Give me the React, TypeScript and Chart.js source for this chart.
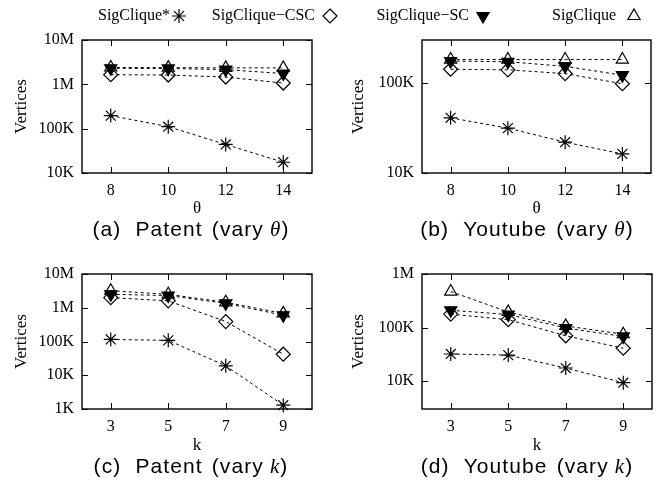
import React, { useEffect, useRef } from 'react';
import { Chart, registerables } from 'chart.js';

Chart.register(...registerables);

// ---------------- data ----------------
const seriesNames = ['SigClique*', 'SigClique\u2212CSC', 'SigClique\u2212SC', 'SigClique'];
const thetaValues = [8, 10, 12, 14];
const kValues = [3, 5, 7, 9];

// (a) Patent, vary theta
const patentThetaStar = [197000, 111000, 44000, 17500];
const patentThetaCSC = [1650000, 1620000, 1460000, 1070000];
const patentThetaSC = [2300000, 2280000, 2150000, 1750000];
const patentThetaFull = [2400000, 2380000, 2350000, 2350000];

// (b) Youtube, vary theta
const youtubeThetaStar = [41000, 31500, 22000, 16300];
const youtubeThetaCSC = [142000, 140000, 127000, 98000];
const youtubeThetaSC = [175000, 172000, 153000, 122000];
const youtubeThetaFull = [182000, 182000, 182000, 182000];

// (c) Patent, vary k
const patentKStar = [115000, 108000, 19000, 1300];
const patentKCSC = [2000000, 1600000, 390000, 42000];
const patentKSC = [2500000, 2300000, 1350000, 600000];
const patentKFull = [3200000, 2500000, 1450000, 680000];

// (d) Youtube, vary k
const youtubeKStar = [32000, 30500, 17500, 9300];
const youtubeKCSC = [178000, 140000, 70000, 41000];
const youtubeKSC = [210000, 175000, 98000, 68000];
const youtubeKFull = [470000, 195000, 107000, 75000];

// tick labels / ranges
const yTicksA = [1e4, 1e5, 1e6, 1e7];
const yTicksB = [1e4, 1e5];
const yTicksC = [1e3, 1e4, 1e5, 1e6, 1e7];
const yTicksD = [1e4, 1e5, 1e6];

// ---------------- styles ----------------
const SERIF = '"Liberation Serif", "DejaVu Serif", serif';
const SANS = '"Liberation Sans", "DejaVu Sans", sans-serif';
const markerStyles = [
  { pointStyle: 'star', rotation: 0, fill: 'rgba(0,0,0,0)' },
  { pointStyle: 'rectRot', rotation: 0, fill: 'rgba(0,0,0,0)' },
  { pointStyle: 'triangle', rotation: 180, fill: '#000' },
  { pointStyle: 'triangle', rotation: 0, fill: 'rgba(0,0,0,0)' },
];
const MARKER_R = 7;

function fmt(v: number): string {
  if (v >= 1e6) return v / 1e6 + 'M';
  return v / 1e3 + 'K';
}

function drawMarker(ctx: CanvasRenderingContext2D, idx: number, x: number, y: number, r: number) {
  const st = markerStyles[idx];
  ctx.save();
  ctx.strokeStyle = '#000';
  ctx.fillStyle = st.fill;
  ctx.lineWidth = 1.2;
  ctx.beginPath();
  if (st.pointStyle === 'star') {
    for (let i = 0; i < 4; i++) {
      const a = (i * Math.PI) / 4;
      ctx.moveTo(x + Math.cos(a) * r, y + Math.sin(a) * r);
      ctx.lineTo(x - Math.cos(a) * r, y - Math.sin(a) * r);
    }
    ctx.stroke();
  } else if (st.pointStyle === 'rectRot') {
    ctx.moveTo(x, y - r);
    ctx.lineTo(x + r, y);
    ctx.lineTo(x, y + r);
    ctx.lineTo(x - r, y);
    ctx.closePath();
    ctx.fill();
    ctx.stroke();
  } else {
    const rot = (st.rotation * Math.PI) / 180;
    for (let i = 0; i < 3; i++) {
      const a = rot + (i * 2 * Math.PI) / 3;
      const px = x + Math.sin(a) * r;
      const py = y - Math.cos(a) * r;
      if (i === 0) ctx.moveTo(px, py);
      else ctx.lineTo(px, py);
    }
    ctx.closePath();
    ctx.fill();
    ctx.stroke();
  }
  ctx.restore();
}

const framePlugin = {
  id: 'gnuFrame',
  beforeDatasetsDraw(chart: any) {
    const { ctx, chartArea } = chart;
    const { left, right, top, bottom } = chartArea;
    const xs = chart.scales.x;
    const ys = chart.scales.y;
    ctx.save();
    ctx.strokeStyle = '#000';
    ctx.lineWidth = 1.4;
    ctx.strokeRect(left, top, right - left, bottom - top);
    const L = 6;
    ctx.beginPath();
    xs.ticks.forEach((t: any) => {
      const px = Math.round(xs.getPixelForValue(t.value)) + 0.5;
      ctx.moveTo(px, bottom);
      ctx.lineTo(px, bottom - L);
      ctx.moveTo(px, top);
      ctx.lineTo(px, top + L);
    });
    ys.ticks.forEach((t: any) => {
      const py = Math.round(ys.getPixelForValue(t.value)) + 0.5;
      ctx.moveTo(left, py);
      ctx.lineTo(left + L, py);
      ctx.moveTo(right, py);
      ctx.lineTo(right - L, py);
    });
    ctx.lineWidth = 1;
    ctx.stroke();
    ctx.restore();
  },
};

const legendLayout = [
  { textRight: 170, symX: 179 },
  { textRight: 315, symX: 330 },
  { textRight: 469, symX: 483 },
  { textRight: 616, symX: 634 },
];

const legendPlugin = {
  id: 'gnuLegend',
  afterDraw(chart: any) {
    const opts = chart.options.plugins.gnuLegend;
    if (!opts || !opts.show) return;
    const ctx = chart.ctx as CanvasRenderingContext2D;
    ctx.save();
    ctx.font = '16px ' + SERIF;
    ctx.fillStyle = '#000';
    ctx.textAlign = 'right';
    ctx.textBaseline = 'middle';
    const y = 16;
    seriesNames.forEach((name, i) => {
      const l = legendLayout[i];
      ctx.fillText(name, l.textRight, y);
      drawMarker(ctx, i, l.symX, y, MARKER_R);
    });
    ctx.restore();
  },
};

interface Panel {
  cats: number[];
  series: number[][];
  xMin: number;
  xMax: number;
  yMin: number;
  yMax: number;
  yTicks: number[];
  xTitle: string;
  left: number;
  top: number;
  width: number;
  height: number;
  pad: { left: number; right: number; top: number; bottom: number };
  yW: number;
  xH: number;
  yTitlePad: number;
  xTitlePad: number;
  legend: boolean;
}

const panels: Panel[] = [
  {
    cats: thetaValues,
    series: [patentThetaStar, patentThetaCSC, patentThetaSC, patentThetaFull],
    xMin: 7, xMax: 15, yMin: 1e4, yMax: 1e7, yTicks: yTicksA, xTitle: '\u03b8',
    left: 0, top: 0, width: 662, height: 241,
    pad: { left: 0, right: 350, top: 40, bottom: 18 }, yW: 82, xH: 50, yTitlePad: 11.8, xTitlePad: 4.0,
    legend: true,
  },
  {
    cats: thetaValues,
    series: [youtubeThetaStar, youtubeThetaCSC, youtubeThetaSC, youtubeThetaFull],
    xMin: 7, xMax: 15, yMin: 1e4, yMax: 3e5, yTicks: yTicksB, xTitle: '\u03b8',
    left: 331, top: 0, width: 331, height: 241,
    pad: { left: 0, right: 11, top: 40, bottom: 18 }, yW: 91, xH: 50, yTitlePad: 17.8, xTitlePad: 4.0,
    legend: false,
  },
  {
    cats: kValues,
    series: [patentKStar, patentKCSC, patentKSC, patentKFull],
    xMin: 2, xMax: 10, yMin: 1e3, yMax: 1e7, yTicks: yTicksC, xTitle: 'k',
    left: 0, top: 241, width: 331, height: 241,
    pad: { left: 0, right: 19, top: 33, bottom: 23 }, yW: 82, xH: 50, yTitlePad: 11.8, xTitlePad: 3.0,
    legend: false,
  },
  {
    cats: kValues,
    series: [youtubeKStar, youtubeKCSC, youtubeKSC, youtubeKFull],
    xMin: 2, xMax: 10, yMin: 3000, yMax: 1e6, yTicks: yTicksD, xTitle: 'k',
    left: 331, top: 241, width: 331, height: 241,
    pad: { left: 0, right: 10, top: 33, bottom: 23 }, yW: 91, xH: 50, yTitlePad: 17.8, xTitlePad: 3.0,
    legend: false,
  },
];

function buildConfig(p: Panel): any {
  const datasets = p.series.map((vals, i) => ({
    label: seriesNames[i],
    data: p.cats.map((c, j) => ({ x: c, y: vals[j] })),
    borderColor: '#000',
    borderWidth: 1,
    borderDash: [3, 3],
    backgroundColor: markerStyles[i].fill,
    pointStyle: markerStyles[i].pointStyle,
    rotation: markerStyles[i].rotation,
    pointRadius: MARKER_R,
    pointBorderWidth: 1.2,
    pointBorderColor: '#000',
    pointBackgroundColor: markerStyles[i].fill,
    fill: false,
    tension: 0,
    clip: false,
  }));
  return {
    type: 'line',
    data: { datasets },
    plugins: [framePlugin, legendPlugin],
    options: {
      animation: false,
      responsive: false,
      devicePixelRatio: 1,
      events: [],
      layout: { padding: p.pad },
      plugins: {
        legend: { display: false },
        title: { display: false },
        tooltip: { enabled: false },
        gnuLegend: { show: p.legend },
      },
      scales: {
        x: {
          type: 'linear',
          min: p.xMin,
          max: p.xMax,
          afterBuildTicks: (s: any) => {
            s.ticks = p.cats.map((v) => ({ value: v }));
          },
          afterFit: (s: any) => {
            s.height = p.xH;
          },
          grid: { display: false, drawTicks: false },
          border: { display: false },
          ticks: {
            color: '#000',
            font: { family: SERIF, size: 16 },
            padding: 8,
            maxRotation: 0,
            autoSkip: false,
            callback: (v: any) => String(v),
          },
          title: {
            display: true,
            text: p.xTitle,
            color: '#000',
            font: { family: SERIF, size: 17 },
            padding: { top: 0, bottom: p.xTitlePad },
          },
        },
        y: {
          type: 'logarithmic',
          min: p.yMin,
          max: p.yMax,
          afterBuildTicks: (s: any) => {
            s.ticks = p.yTicks.map((v) => ({ value: v }));
          },
          afterFit: (s: any) => {
            s.width = p.yW;
          },
          grid: { display: false, drawTicks: false },
          border: { display: false },
          ticks: {
            color: '#000',
            font: { family: SERIF, size: 16 },
            padding: 8,
            autoSkip: false,
            callback: (v: any) => fmt(Number(v)),
          },
          title: {
            display: true,
            text: 'Vertices',
            color: '#000',
            font: { family: SERIF, size: 17 },
            padding: { top: p.yTitlePad, bottom: 0 },
          },
        },
      },
    },
  };
}

function PanelChart({ p }: { p: Panel }) {
  const ref = useRef<HTMLCanvasElement | null>(null);
  useEffect(() => {
    if (!ref.current) return;
    const chart = new Chart(ref.current, buildConfig(p));
    return () => chart.destroy();
  }, [p]);
  return (
    <canvas
      ref={ref}
      width={p.width}
      height={p.height}
      style={{ position: 'absolute', left: p.left, top: p.top, width: p.width, height: p.height }}
    />
  );
}

const captions = [
  { letter: '(a)', name: 'Patent', vary: '\u03b8', cx: 191, cy: 229 },
  { letter: '(b)', name: 'Youtube', vary: '\u03b8', cx: 527, cy: 229 },
  { letter: '(c)', name: 'Patent', vary: 'k', cx: 191, cy: 466 },
  { letter: '(d)', name: 'Youtube', vary: 'k', cx: 527, cy: 466 },
];

export default function App() {
  return (
    <div style={{ position: 'absolute', left: 0, top: 0, width: 662, height: 482, background: '#fff', overflow: 'hidden' }}>
      {panels.map((p, i) => (
        <PanelChart key={i} p={p} />
      ))}
      {captions.map((c, i) => (
        <div
          key={'c' + i}
          style={{
            position: 'absolute',
            left: c.cx - 160,
            width: 320,
            top: c.cy - 12,
            height: 24,
            lineHeight: '24px',
            textAlign: 'center',
            fontFamily: SANS,
            fontSize: 21,
            letterSpacing: 1.1,
            color: '#000',
            whiteSpace: 'nowrap',
          }}
        >
          <span>{c.letter}</span>
          <span style={{ marginLeft: 14 }}>{c.name}</span>
          <span style={{ marginLeft: 9 }}>(vary</span>
          <span style={{ marginLeft: 6, fontFamily: SERIF, fontStyle: 'italic' }}>{c.vary}</span>
          <span>)</span>
        </div>
      ))}
    </div>
  );
}
